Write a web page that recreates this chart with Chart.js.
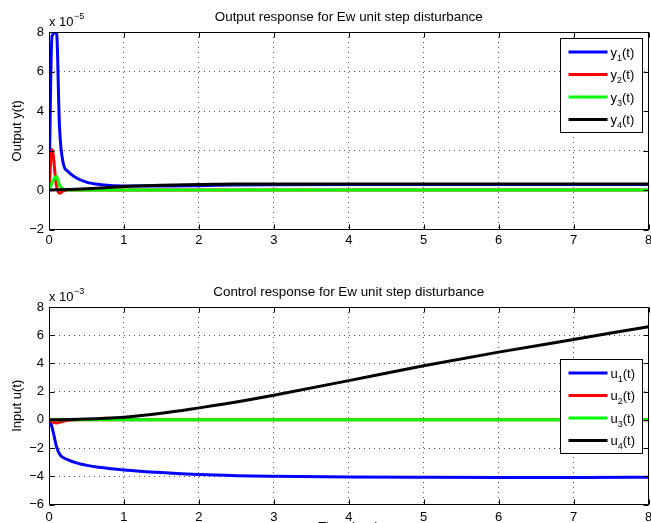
<!DOCTYPE html>
<html><head><meta charset="utf-8">
<script src="https://cdn.jsdelivr.net/npm/chart.js@4/dist/chart.umd.min.js"></script>
<style>
html,body{margin:0;padding:0;background:#fff;overflow:hidden}
#wrap{position:relative;width:651px;height:523px;overflow:hidden;background:#fff}
canvas{position:absolute;left:0}
</style></head><body>
<div id="wrap">
<canvas id="c1" width="651" height="262" style="top:0"></canvas>
<canvas id="c2" width="651" height="280" style="top:262px"></canvas>
</div>
<script>
// ---- data (top: output, units 1e-5) ----
const timeY = [0, 0.04, 0.1, 0.14, 0.19, 0.25, 0.35, 0.5, 0.7, 1, 1.5, 2, 2.5, 3, 4, 5, 6, 7, 8];
const y1 = [0, 7.8, 8.0, 3.2, 1.35, 0.95, 0.65, 0.4, 0.27, 0.2, 0.2, 0.22, 0.25, 0.27, 0.28, 0.28, 0.28, 0.28, 0.28];
const y2 = [0, 2.05, 0.2, -0.17, -0.05, 0, 0, 0, 0, 0, 0, 0, 0, 0, 0, 0, 0, 0, 0];
const y3 = [0, 0.37, 0.68, 0.25, 0.05, 0, 0, 0, 0, 0, 0, 0, 0, 0, 0, 0, 0, 0, 0];
const y4 = [0, 0.003, 0.008, 0.012, 0.016, 0.022, 0.035, 0.06, 0.1, 0.18, 0.24, 0.28, 0.3, 0.31, 0.31, 0.31, 0.31, 0.31, 0.31];
const namesY = ['y_1(t)', 'y_2(t)', 'y_3(t)', 'y_4(t)'];

// ---- data (bottom: control, units 1e-3) ----
const timeU = [0, 0.02, 0.06, 0.1, 0.15, 0.24, 0.4, 0.7, 1, 1.5, 2, 2.5, 3, 4, 5, 6, 7, 8];
const u1 = [0, -0.15, -0.95, -1.9, -2.5, -2.8, -3.1, -3.38, -3.55, -3.74, -3.88, -3.96, -4.0, -4.05, -4.07, -4.08, -4.08, -4.07];
const u2 = [0, -0.08, -0.18, -0.22, -0.15, -0.05, 0, 0, 0, 0, 0, 0, 0, 0, 0, 0, 0, 0];
const u3 = [0, 0, 0, 0, 0, 0, 0, 0, 0, 0, 0, 0, 0, 0, 0, 0, 0, 0];
const u4 = [0, 0, 0, 0.005, 0.01, 0.02, 0.04, 0.1, 0.19, 0.47, 0.85, 1.26, 1.75, 2.78, 3.84, 4.8, 5.7, 6.6];
const namesU = ['u_1(t)', 'u_2(t)', 'u_3(t)', 'u_4(t)'];

const colors = ['#0000ff', '#ff0000', '#00ff00', '#000000'];
const FONT = '"Liberation Sans", Arial, Helvetica, sans-serif';

function drawSubText(ctx, str, x, y) {
  const m = str.match(/^([^_]*)_([^(]*)(.*)$/);
  ctx.textAlign = 'left'; ctx.textBaseline = 'alphabetic';
  ctx.font = '13px ' + FONT;
  ctx.fillText(m[1], x, y); x += ctx.measureText(m[1]).width;
  ctx.font = '9px ' + FONT;
  ctx.fillText(m[2], x, y + 4); x += ctx.measureText(m[2]).width;
  ctx.font = '13px ' + FONT;
  ctx.fillText(m[3], x, y);
}

const decor = {
  id: 'decor',
  afterDraw(chart, args, o) {
    const {ctx, chartArea: a, scales: {x, y}} = chart;
    ctx.save();
    ctx.strokeStyle = '#000'; ctx.lineWidth = 1;
    const L = Math.round(a.left) + 0.5, R = Math.round(a.right) - 0.5;
    const T = Math.round(a.top) + 0.5, B = Math.round(a.bottom) - 0.5;
    ctx.beginPath();
    x.ticks.forEach(t => {
      const px = Math.round(x.getPixelForValue(t.value)) + 0.5;
      ctx.moveTo(px, B); ctx.lineTo(px, B - 5);
      ctx.moveTo(px, T); ctx.lineTo(px, T + 5);
    });
    y.ticks.forEach(t => {
      const py = Math.round(y.getPixelForValue(t.value)) + 0.5;
      ctx.moveTo(L, py); ctx.lineTo(L + 5, py);
      ctx.moveTo(R, py); ctx.lineTo(R - 5, py);
    });
    ctx.stroke();
    ctx.strokeRect(L, T, R - L, B - T);

    ctx.fillStyle = '#000';
    ctx.font = '13.4px ' + FONT; ctx.textAlign = 'center'; ctx.textBaseline = 'alphabetic';
    ctx.fillText(o.title, (a.left + a.right) / 2, a.top - 11);
    ctx.textAlign = 'left';
    ctx.font = '13px ' + FONT;
    const base = 'x 10';
    ctx.fillText(base, a.left, a.top - 6);
    const w = ctx.measureText(base).width;
    ctx.font = '9px ' + FONT;
    ctx.fillText(o.exp, a.left + w + 0.5, a.top - 13);
    ctx.save();
    ctx.translate(21, (a.top + a.bottom) / 2);
    ctx.rotate(-Math.PI / 2);
    ctx.font = '13px ' + FONT; ctx.textAlign = 'center';
    ctx.fillText(o.ylabel, 0, 0);
    ctx.restore();
    if (o.xlabel) {
      ctx.font = '13px ' + FONT; ctx.textAlign = 'center';
      ctx.fillText(o.xlabel, (a.left + a.right) / 2, a.bottom + 26.8);
    }
    const bw = 82, bh = 94;
    const bx = Math.round(a.right - 6.5 - bw) + 0.5, by = Math.round(a.top + o.legendTop) + 0.5;
    ctx.fillStyle = '#fff'; ctx.fillRect(bx, by, bw, bh);
    ctx.strokeStyle = '#000'; ctx.lineWidth = 1; ctx.strokeRect(bx, by, bw, bh);
    o.names.forEach((n, i) => {
      const ry = by + 13.5 + 22.5 * i;
      ctx.strokeStyle = colors[i]; ctx.lineWidth = 3;
      ctx.beginPath(); ctx.moveTo(bx + 8, ry); ctx.lineTo(bx + 47, ry); ctx.stroke();
      ctx.fillStyle = '#000';
      drawSubText(ctx, n, bx + 50, ry + 4.5);
    });
    ctx.restore();
  }
};

function makeChart(id, times, series, names, yMin, yMax, opts) {
  const datasets = series.map((s, i) => ({
    label: names[i],
    data: times.map((t, k) => ({x: t, y: s[k]})),
    borderColor: colors[i], backgroundColor: colors[i],
    borderWidth: 3, pointRadius: 0, fill: false,
    cubicInterpolationMode: 'monotone',
    order: series.length - i
  }));
  const tickFmt = v => (v < 0 ? '\u2212' + Math.abs(v) : String(v));
  return new Chart(document.getElementById(id), {
    type: 'line',
    data: {datasets},
    options: {
      responsive: false, animation: false, events: [],
      layout: {padding: {top: opts.padTop, right: 2.5, bottom: 0, left: 0}},
      plugins: {
        legend: {display: false}, title: {display: false}, tooltip: {enabled: false},
        decor: opts
      },
      scales: {
        x: {
          type: 'linear', min: 0, max: 8,
          ticks: {stepSize: 1, color: '#000', font: {family: FONT, size: 13}, padding: opts.xPad, maxRotation: 0, autoSkip: false, callback: tickFmt},
          grid: {color: '#555', drawTicks: false, lineWidth: 1},
          border: {display: false, dash: [1, 4]},
          afterFit(s) { s.height = opts.xHeight; s.paddingLeft = 0; s.paddingRight = 0; }
        },
        y: {
          type: 'linear', min: yMin, max: yMax,
          ticks: {stepSize: 2, color: '#000', font: {family: FONT, size: 13}, padding: 5, callback: tickFmt},
          grid: {color: '#555', drawTicks: false, lineWidth: 1},
          border: {display: false, dash: [1, 4]},
          afterFit(s) { s.width = 49; s.paddingTop = 0; s.paddingBottom = 0; }
        }
      }
    },
    plugins: [decor]
  });
}

makeChart('c1', timeY, [y1, y2, y3, y4], namesY, -2, 8, {
  padTop: 32, xHeight: 32.5, xPad: 3, title: 'Output response for Ew unit step disturbance',
  exp: '\u22125', ylabel: 'Output y(t)', legendTop: 6, names: namesY
});
makeChart('c2', timeU, [u1, u2, u3, u4], namesU, -6, 8, {
  padTop: 45, xHeight: 37.5, xPad: 5, title: 'Control response for Ew unit step disturbance',
  exp: '\u22123', ylabel: 'Input u(t)', xlabel: 'Time (sec)', legendTop: 52, names: namesU
});
</script>
</body></html>
